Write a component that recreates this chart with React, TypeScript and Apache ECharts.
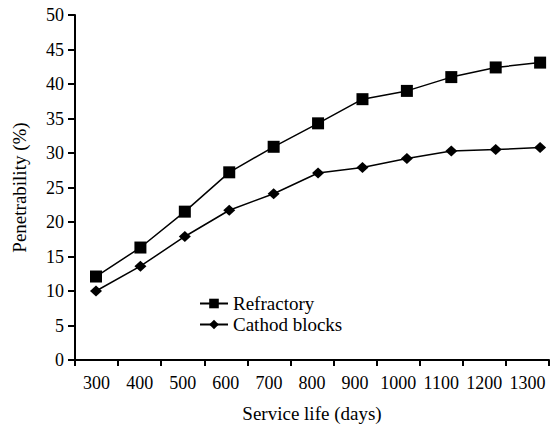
import React, { useEffect, useRef } from "react";
import * as echarts from "echarts";

const categories = ["300", "400", "500", "600", "700", "800", "900", "1000", "1100", "1200", "1300"];
const days = [300, 400, 500, 600, 700, 800, 900, 1000, 1100, 1200, 1300];
const refractory = [12.1, 16.3, 21.5, 27.2, 30.9, 34.3, 37.8, 39.0, 41.0, 42.4, 43.1];
const cathod = [10.0, 13.6, 17.9, 21.7, 24.1, 27.1, 27.9, 29.2, 30.3, 30.5, 30.8];
const yTicks = { min: 0, max: 50, interval: 5 };

const FONT = "Liberation Serif";

export default function App() {
  const ref = useRef<HTMLDivElement>(null);
  useEffect(() => {
    if (!ref.current) return;
    const chart = echarts.init(ref.current, null, { renderer: "svg" });
    chart.setOption({
      animation: false,
      textStyle: { fontFamily: FONT, color: "#000" },
      grid: { left: 75, right: 1, top: 15, bottom: 70, containLabel: false, outerBoundsMode: "none" },
      legend: {
        left: 194,
        top: 289,
        orient: "vertical",
        itemWidth: 28,
        itemHeight: 12,
        itemGap: 2,
        textStyle: { fontFamily: FONT, fontSize: 19, color: "#000" },
        data: ["Refractory", "Cathod blocks"],
      },
      xAxis: [
        {
          type: "category",
          data: categories,
          boundaryGap: true,
          name: "Service life (days)",
          nameLocation: "middle",
          nameGap: 44,
          nameTextStyle: { fontFamily: FONT, fontSize: 19, color: "#000" },
          axisLine: { lineStyle: { color: "#000", width: 2 } },
          axisTick: { show: true, length: 6, inside: false, lineStyle: { color: "#000", width: 2 } },
          axisLabel: { fontFamily: FONT, fontSize: 18, color: "#000", margin: 14, interval: 0 },
          splitLine: { show: false },
        },
        {
          type: "value",
          min: 252.7,
          max: 1320,
          show: false,
          position: "bottom",
        },
      ],
      yAxis: {
        type: "value",
        min: yTicks.min,
        max: yTicks.max,
        interval: yTicks.interval,
        name: "Penetrability (%)",
        nameLocation: "middle",
        nameGap: 46,
        nameRotate: 90,
        nameTextStyle: { fontFamily: FONT, fontSize: 19, color: "#000" },
        axisLine: { show: true, lineStyle: { color: "#000", width: 2 } },
        axisTick: { show: true, length: 7, lineStyle: { color: "#000", width: 2 } },
        axisLabel: { fontFamily: FONT, fontSize: 18, color: "#000", margin: 11 },
        splitLine: { show: false },
      },
      series: [
        {
          name: "Refractory",
          type: "line",
          xAxisIndex: 1,
          data: days.map((d, i) => [d, refractory[i]]),
          symbol: "rect",
          symbolSize: 12,
          lineStyle: { color: "#000", width: 1.5 },
          itemStyle: { color: "#000" },
        },
        {
          name: "Cathod blocks",
          type: "line",
          xAxisIndex: 1,
          data: days.map((d, i) => [d, cathod[i]]),
          symbol: "diamond",
          symbolSize: [12, 11],
          lineStyle: { color: "#000", width: 1.5 },
          itemStyle: { color: "#000" },
        },
      ],
    });
    return () => chart.dispose();
  }, []);
  return (
    <div
      ref={ref}
      style={{ position: "fixed", left: 0, top: 0, width: 550, height: 430, background: "#fff" }}
    />
  );
}
